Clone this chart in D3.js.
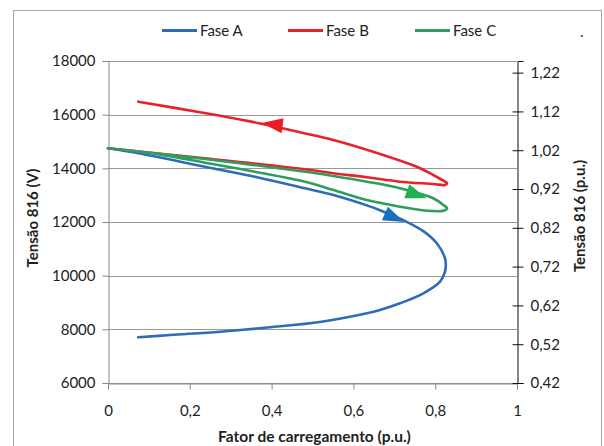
<!DOCTYPE html>
<html>
<head>
<meta charset="utf-8">
<script src="https://cdn.jsdelivr.net/npm/d3@7"></script>
<style>
  html, body { margin: 0; padding: 0; background: #fff; }
  svg { display: block; font-family: Lato, "Open Sans", sans-serif; }
</style>
</head>
<body>
<svg id="chart" width="604" height="446"></svg>
<script>
// Loading factor (p.u.) vs. bus 816 voltage, one curve per phase
const faseA = [
  [0, 14747], [0.074, 14561], [0.237, 14062], [0.359, 13689], [0.482, 13257],
  [0.551, 13007], [0.633, 12620], [0.665, 12440], [0.726, 12040], [0.771, 11660],
  [0.804, 11207], [0.824, 10648], [0.826, 10398], [0.824, 10148], [0.812, 9775],
  [0.771, 9343], [0.714, 8970], [0.665, 8721], [0.633, 8598], [0.522, 8285],
  [0.396, 8076], [0.274, 7912], [0.152, 7789], [0.074, 7703]
];
const faseB = [
  [0, 14747], [0.237, 14375], [0.482, 13965], [0.551, 13816], [0.633, 13667],
  [0.714, 13503], [0.795, 13417], [0.824, 13380], [0.829, 13443], [0.820, 13540],
  [0.795, 13752], [0.755, 14061], [0.673, 14497], [0.551, 15057], [0.469, 15344],
  [0.372, 15672], [0.225, 16089], [0.074, 16484]
];
const faseC = [
  [0, 14747], [0.237, 14348], [0.482, 13875], [0.551, 13715], [0.633, 13503],
  [0.714, 13257], [0.795, 12884], [0.820, 12634], [0.829, 12511], [0.820, 12422],
  [0.779, 12422], [0.714, 12571], [0.633, 12820], [0.551, 13193], [0.482, 13503],
  [0.359, 13875], [0.237, 14211], [0.103, 14572], [0.030, 14703]
];
// Direction arrows: tip point and a point behind it on the curve
const arrowA = { tip: [0.724, 12000], back: [0.681, 12290] };
const arrowB = { tip: [0.376, 15690], back: [0.430, 15580] };
const arrowC = { tip: [0.779, 12885], back: [0.731, 13145] };

const seriesNames = ["Fase A", "Fase B", "Fase C"];
const seriesColors = ["#2E6CB8", "#E8222A", "#2E9E5E"];
const arrowColors = ["#1570C0", "#EC1C24", "#22B14C"];

const xTicks = [0, 0.2, 0.4, 0.6, 0.8, 1];
const yTicks = [6000, 8000, 10000, 12000, 14000, 16000, 18000];
const y2Ticks = [0.42, 0.52, 0.62, 0.72, 0.82, 0.92, 1.02, 1.12, 1.22];

const xTitle = "Fator de carregamento (p.u.)";
const yTitle = "Tensão 816 (V)";
const y2Title = "Tensão 816 (p.u.)";

const svg = d3.select("#chart");
const plotL = 108, plotR = 517, plotT = 61, plotB = 383;

const x = d3.scaleLinear().domain([0, 1]).range([plotL, plotR]);
const y = d3.scaleLinear().domain([6000, 18000]).range([plotB, plotT]);
const y2 = d3.scaleLinear().domain([0.42, 1.25]).range([plotB, plotT]);
const comma = d => d3.format("")(d).replace(".", ",");
const tickFont = 15;

// outer chart frame
svg.append("rect")
  .attr("x", 13.5).attr("y", 10.5).attr("width", 588).attr("height", 460)
  .attr("fill", "none").attr("stroke", "#a6a6a6").attr("stroke-width", 1);

// horizontal gridlines
svg.append("g").selectAll("line").data(yTicks).join("line")
  .attr("x1", plotL).attr("x2", plotR)
  .attr("y1", d => Math.round(y(d)) + 0.5).attr("y2", d => Math.round(y(d)) + 0.5)
  .attr("stroke", "#999").attr("stroke-width", 1);

// left axis
const gy = svg.append("g").attr("transform", `translate(${plotL + 0.5},0)`)
  .call(d3.axisLeft(y).tickValues(yTicks).tickSize(6).tickPadding(7).tickFormat(d3.format("d")));
gy.select(".domain").attr("stroke", "#8a8a8a");
gy.selectAll(".tick line").attr("stroke", "#8a8a8a");
gy.selectAll("text").attr("font-size", tickFont).attr("fill", "#222").attr("font-family", "Lato, sans-serif");

// bottom axis
const gx = svg.append("g").attr("transform", `translate(0,${plotB + 0.5})`)
  .call(d3.axisBottom(x).tickValues(xTicks).tickSize(6).tickPadding(16).tickFormat(comma));
gx.select(".domain").attr("stroke", "#8a8a8a");
gx.selectAll(".tick line").attr("stroke", "#8a8a8a");
gx.selectAll("text").attr("font-size", tickFont).attr("fill", "#222").attr("font-family", "Lato, sans-serif");

// right axis (per-unit), ticks cross the line
const gy2 = svg.append("g").attr("transform", `translate(${plotR + 0.5},0)`)
  .call(d3.axisRight(y2).tickValues(y2Ticks).tickSize(6).tickPadding(7).tickFormat(comma));
gy2.select(".domain").attr("stroke", "#111");
gy2.selectAll(".tick line").attr("stroke", "#111").attr("x1", -5);
gy2.selectAll("text").attr("font-size", tickFont).attr("fill", "#222").attr("font-family", "Lato, sans-serif");

// axis titles
svg.append("text").attr("x", (plotL + plotR) / 2 + 2).attr("y", 442)
  .attr("text-anchor", "middle").attr("font-size", 15.5).attr("font-weight", "bold")
  .attr("fill", "#222").text(xTitle);
svg.append("text").attr("transform", `translate(38,${(plotT + plotB) / 2 - 4}) rotate(-90)`)
  .attr("text-anchor", "middle").attr("font-size", 15).attr("font-weight", "bold")
  .attr("fill", "#222").text(yTitle);
svg.append("text").attr("transform", `translate(585,${(plotT + plotB) / 2 - 6}) rotate(-90)`)
  .attr("text-anchor", "middle").attr("font-size", 15).attr("font-weight", "bold")
  .attr("fill", "#222").text(y2Title);

// curves
const line = d3.line().x(d => x(d[0])).y(d => y(d[1])).curve(d3.curveCatmullRom.alpha(0.5));
[faseA, faseB, faseC].forEach((s, i) => {
  svg.append("path").datum(s).attr("d", line)
    .attr("fill", "none").attr("stroke", seriesColors[i])
    .attr("stroke-width", 2.6).attr("stroke-linejoin", "round").attr("stroke-linecap", "round");
});

// arrowheads
[arrowA, arrowB, arrowC].forEach((a, i) => {
  const tx = x(a.tip[0]), ty = y(a.tip[1]);
  const bx = x(a.back[0]), by = y(a.back[1]);
  const ang = Math.atan2(ty - by, tx - bx);
  const len = 21, hw = 7.5;
  const cx = tx - len * Math.cos(ang), cy = ty - len * Math.sin(ang);
  const px = -Math.sin(ang) * hw, py = Math.cos(ang) * hw;
  svg.append("path")
    .attr("d", `M${tx},${ty}L${cx + px},${cy + py}L${cx - px},${cy - py}Z`)
    .attr("fill", arrowColors[i]);
});

// legend
const legendX = [162, 288, 415];
const lg = svg.append("g");
seriesNames.forEach((n, i) => {
  lg.append("line").attr("x1", legendX[i]).attr("x2", legendX[i] + 35)
    .attr("y1", 30.5).attr("y2", 30.5).attr("stroke", seriesColors[i]).attr("stroke-width", 3);
  lg.append("text").attr("x", legendX[i] + 38).attr("y", 36)
    .attr("font-size", 15).attr("fill", "#222").text(n);
});
lg.append("text").attr("x", 580).attr("y", 37).attr("font-size", 15).attr("fill", "#222").text(".");
</script>
</body>
</html>
